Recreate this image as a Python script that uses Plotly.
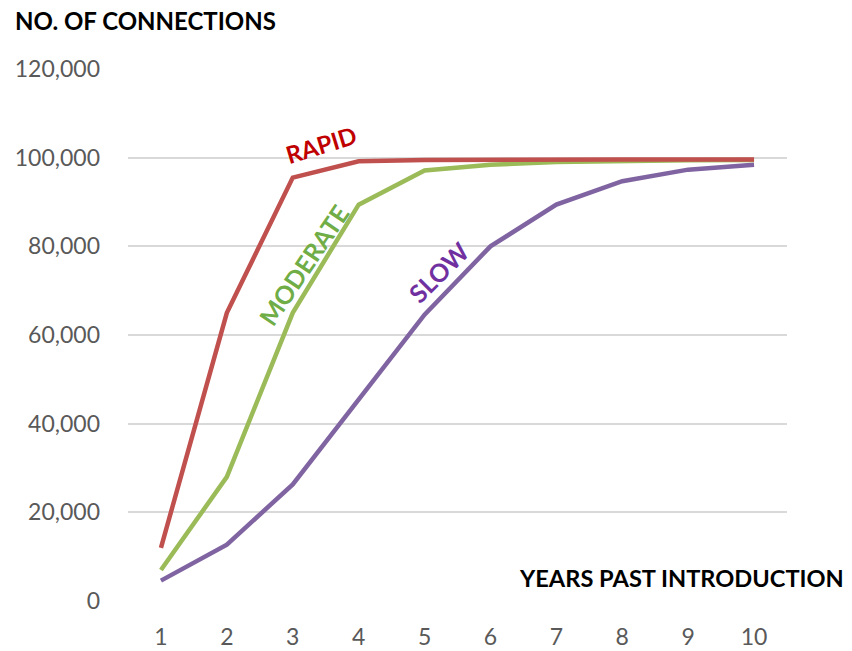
import plotly.graph_objects as go

# Years since the product was introduced
years = [1, 2, 3, 4, 5, 6, 7, 8, 9, 10]

# Cumulative connections under three adoption scenarios
rapid = [12000, 65000, 95500, 99200, 99500, 99600, 99600, 99600, 99600, 99600]
moderate = [7000, 28000, 65000, 89400, 97100, 98400, 99000, 99300, 99400, 99500]
slow = [4600, 12700, 26300, 45400, 64600, 80000, 89400, 94700, 97300, 98400]

y_ticks = [0, 20000, 40000, 60000, 80000, 100000, 120000]

FONT = "Lato, 'Open Sans', sans-serif"

fig = go.Figure()
for vals, color in [(slow, "#8064A2"), (moderate, "#9BBB59"), (rapid, "#C0504D")]:
    fig.add_trace(go.Scatter(
        x=years, y=vals, mode="lines",
        line=dict(color=color, width=4.5),
        showlegend=False, hoverinfo="skip",
    ))

fig.update_layout(
    width=852, height=651,
    margin=dict(l=128, r=65, t=69, b=50),
    plot_bgcolor="white", paper_bgcolor="white",
    font=dict(family=FONT, size=23, color="#595959"),
    xaxis=dict(
        range=[0.5, 10.5], tickvals=years, ticktext=[str(v) for v in years],
        showgrid=False, zeroline=False, showline=False,
        ticks="", ticklabelstandoff=20, automargin=False,
    ),
    yaxis=dict(
        range=[0, 120000], tickvals=y_ticks,
        ticktext=[f"{v:,}" for v in y_ticks],
        showgrid=True, gridcolor="#D9D9D9", gridwidth=1.5,
        zeroline=False, showline=False, ticks="", ticklabelstandoff=27,
        automargin=False,
    ),
    annotations=[
        dict(text="<b>NO. OF CONNECTIONS</b>", xref="paper", yref="paper",
             x=-0.175, y=1.092, xanchor="left", yanchor="middle", showarrow=False,
             font=dict(family=FONT, size=24, color="#000000")),
        dict(text="<b>YEARS PAST INTRODUCTION</b>", xref="paper", yref="paper",
             x=1.09, y=0.043, xanchor="right", yanchor="middle", showarrow=False,
             font=dict(family=FONT, size=23.6, color="#000000")),
        dict(text="<b>RAPID</b>", x=3.43, y=102900, showarrow=False, textangle=-17,
             font=dict(family=FONT, size=24, color="#C00000")),
        dict(text="<b>MODERATE</b>", x=3.16, y=75900, showarrow=False, textangle=-56,
             font=dict(family=FONT, size=25, color="#70AD47")),
        dict(text="<b>SLOW</b>", x=5.21, y=74300, showarrow=False, textangle=-45,
             font=dict(family=FONT, size=25, color="#7030A0")),
    ],
)

fig.write_html("out.html")
